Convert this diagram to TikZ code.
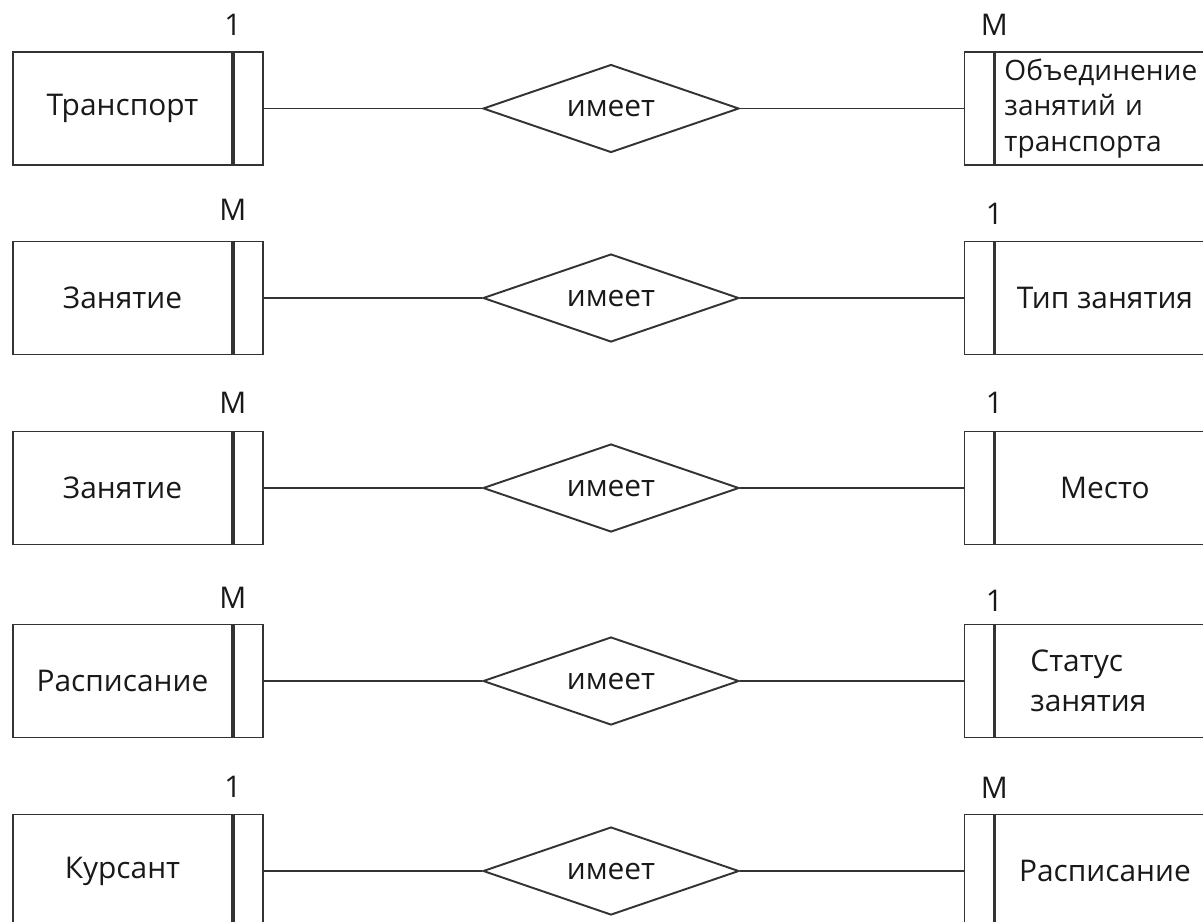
\documentclass[tikz,border=0pt]{standalone}
\usepackage{fontspec}
\setmainfont{Open Sans}
\usetikzlibrary{shapes.geometric}

\tikzset{
  entity/.style={draw=black!80, line width=1.1pt, minimum width=4.38cm, minimum height=2.26cm,
                 inner sep=0pt, text=black!90, font=\fontsize{17}{20}\selectfont},
  bar/.style={draw=black!80, line width=1.1pt, minimum width=0.58cm, minimum height=2.26cm, inner sep=0pt},
  relation/.style={diamond, draw=black!80, line width=1.1pt, aspect=2.9, minimum width=5.12cm,
                   minimum height=1.76cm, inner sep=0pt, text=black!90, font=\fontsize{17}{20}\selectfont},
  card/.style={inner sep=0pt, text=black!90, font=\fontsize{17}{20}\selectfont},
  link/.style={draw=black!80, line width=1.1pt}
}

\begin{document}
\begin{tikzpicture}[x=0.02cm, y=-0.02cm]

        \useasboundingbox (0,0) rectangle (1203,921);
        \clip (0,0) rectangle (1203,921);

        %Transport - union
        \node [entity] (transport) at (122.5,108.5) {Транспорт};
        \node [bar, anchor=west] (transportbar) at (transport.east) {};
        \node [card] (transportcard) at ([yshift=0.52cm]transportbar.north west) {1};
        \node [relation] (has1) at (611,108.5) {имеет};
        \node [bar] (unionbar) at (979,108.5) {};
        \node [entity, anchor=west, align=left, text width=4.02cm, inner xsep=0.18cm,
               font=\fontsize{16}{20}\selectfont] (union)
              at (unionbar.east) {Объединение\\занятий и\\транспорта};
        \node [card] (unioncard) at ([yshift=0.52cm]unionbar.north east) {M};
        \draw [link] (transportbar.east) -- (has1.west);
        \draw [link] (has1.east) -- (unionbar.west);

        %Lesson - lesson type
        \node [entity] (lesson1) at (122.5,298) {Занятие};
        \node [bar, anchor=west] (lesson1bar) at (lesson1.east) {};
        \node [card] (lesson1card) at ([yshift=0.62cm]lesson1bar.north west) {M};
        \node [relation] (has2) at (611,298) {имеет};
        \node [bar] (typebar) at (979,298) {};
        \node [entity, anchor=west] (type) at (typebar.east) {Тип занятия};
        \node [card] (typecard) at ([yshift=0.54cm]typebar.north east) {1};
        \draw [link] (lesson1bar.east) -- (has2.west);
        \draw [link] (has2.east) -- (typebar.west);

        %Lesson - place
        \node [entity] (lesson2) at (122.5,488) {Занятие};
        \node [bar, anchor=west] (lesson2bar) at (lesson2.east) {};
        \node [card] (lesson2card) at ([yshift=0.56cm]lesson2bar.north west) {M};
        \node [relation] (has3) at (611,488) {имеет};
        \node [bar] (placebar) at (979,488) {};
        \node [entity, anchor=west] (place) at (placebar.east) {Место};
        \node [card] (placecard) at ([yshift=0.56cm]placebar.north east) {1};
        \draw [link] (lesson2bar.east) -- (has3.west);
        \draw [link] (has3.east) -- (placebar.west);

        %Schedule - lesson status
        \node [entity] (schedule1) at (122.5,681) {Расписание};
        \node [bar, anchor=west] (schedule1bar) at (schedule1.east) {};
        \node [card] (schedule1card) at ([yshift=0.52cm]schedule1bar.north west) {M};
        \node [relation] (has4) at (611,681) {имеет};
        \node [bar] (statusbar) at (979,681) {};
        \node [entity, anchor=west, align=left, text width=2.98cm, inner xsep=0.7cm] (status)
              at (statusbar.east) {Статус\\[0.1cm]занятия};
        \node [card] (statuscard) at ([yshift=0.46cm]statusbar.north east) {1};
        \draw [link] (schedule1bar.east) -- (has4.west);
        \draw [link] (has4.east) -- (statusbar.west);

        %Cadet - schedule
        \node [entity] (cadet) at (122.5,871) {Курсант};
        \node [bar, anchor=west] (cadetbar) at (cadet.east) {};
        \node [card] (cadetcard) at ([yshift=0.54cm]cadetbar.north west) {1};
        \node [relation] (has5) at (611,871) {имеет};
        \node [bar] (schedule2bar) at (979,871) {};
        \node [entity, anchor=west] (schedule2) at (schedule2bar.east) {Расписание};
        \node [card] (schedule2card) at ([yshift=0.52cm]schedule2bar.north east) {M};
        \draw [link] (cadetbar.east) -- (has5.west);
        \draw [link] (has5.east) -- (schedule2bar.west);

      \end{tikzpicture}
\end{document}
